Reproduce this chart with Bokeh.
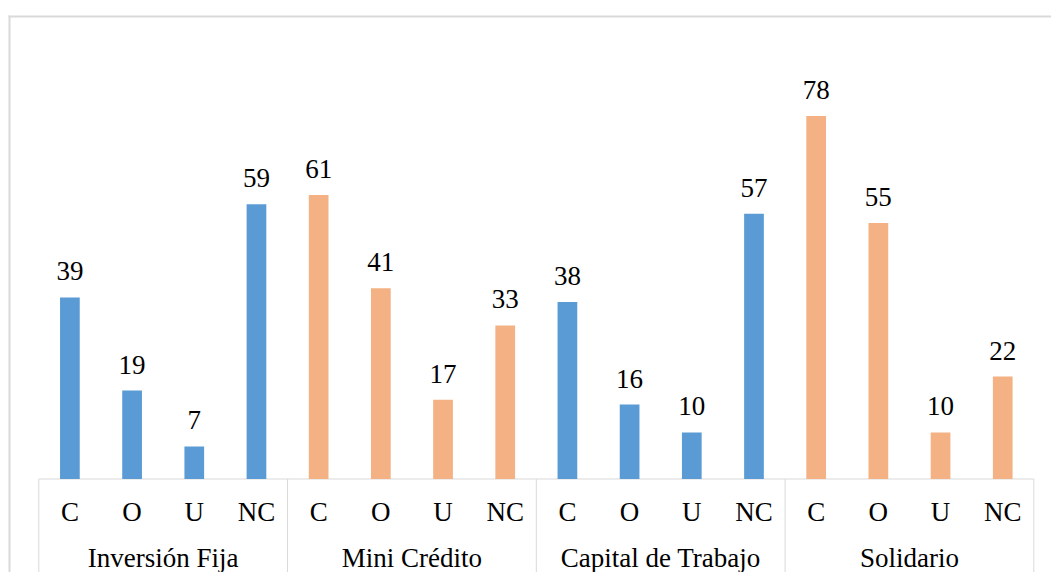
import numpy as np
from bokeh.plotting import figure
from bokeh.models import Range1d, ColumnDataSource
from bokeh.core.properties import value
from bokeh.embed import file_html
from bokeh.resources import INLINE

# ---- data ----
groups = ["Inversión Fija", "Mini Crédito", "Capital de Trabajo", "Solidario"]
subcats = ["C", "O", "U", "NC"]
inversion_fija = [39, 19, 7, 59]
mini_credito = [61, 41, 17, 33]
capital_trabajo = [38, 16, 10, 57]
solidario = [78, 55, 10, 22]
group_colors = ["#5B9BD5", "#F4B183", "#5B9BD5", "#F4B183"]

series = [inversion_fija, mini_credito, capital_trabajo, solidario]

# ---- layout constants (pixels) ----
W, H = 1051, 572
X0, SLOT = 38.3, 62.19     # left edge of category axis, width of one category slot
Y0, PPU = 478.5, 4.655     # baseline pixel, pixels per value unit
FONT = "Liberation Serif"
FS = "27px"
LINE = "#D9D9D9"

n_sub = len(subcats)
xs, tops, cols, subs = [], [], [], []
for gi, (g, vals) in enumerate(zip(groups, series)):
    for si, (s, v) in enumerate(zip(subcats, vals)):
        xs.append(gi * n_sub + si + 0.5)
        tops.append(v)
        cols.append(group_colors[gi])
        subs.append(s)

src = ColumnDataSource(dict(x=xs, top=tops, color=cols, sub=subs,
                            label=[str(v) for v in tops]))

p = figure(width=W, height=H,
           x_range=Range1d(-X0 / SLOT, (W - X0) / SLOT),
           y_range=Range1d(-(H - Y0) / PPU, Y0 / PPU),
           output_backend="svg", toolbar_location=None,
           x_axis_type=None, y_axis_type=None,
           min_border=0, min_border_left=0, min_border_right=0,
           min_border_top=0, min_border_bottom=0)
p.outline_line_color = None
p.background_fill_color = "white"
p.border_fill_color = "white"
p.grid.visible = False

p.extra_x_ranges = {"px": Range1d(0, W)}
p.extra_y_ranges = {"px": Range1d(H, 0)}

# outer chart border (top and left visible)
p.segment(x0=[8, 9], y0=[16, 15], x1=[W + 10, 9], y1=[16, H + 10],
          line_color=LINE, line_width=2,
          x_range_name="px", y_range_name="px")

# category axis line and group separators
n_tot = len(groups) * n_sub
p.segment(x0=[0], y0=[0], x1=[n_tot], y1=[0], line_color=LINE, line_width=1)
bounds = np.arange(len(groups) + 1) * n_sub
p.segment(x0=bounds, y0=np.zeros(len(bounds)), x1=bounds,
          y1=np.full(len(bounds), -40.0), line_color=LINE, line_width=1)

# bars
p.vbar(x="x", top="top", bottom=0, width=0.317, source=src,
       fill_color="color", line_color=None)

# value labels
p.text(x="x", y="top", text="label", source=src, y_offset=-26,
       text_align="center", text_baseline="alphabetic",
       text_font=value(FONT), text_font_size=FS, text_color="#000000")

# sub-category labels
src_sub = ColumnDataSource(dict(x=xs, y=[511] * len(xs), t=subs))
p.text(x="x", y="y", text="t", source=src_sub, y_range_name="px",
       text_align="center", text_baseline="alphabetic",
       text_font=value(FONT), text_font_size=FS, text_color="#000000")

# group labels
gx = [gi * n_sub + n_sub / 2 for gi in range(len(groups))]
src_grp = ColumnDataSource(dict(x=gx, y=[557] * len(gx), t=groups))
p.text(x="x", y="y", text="t", source=src_grp, y_range_name="px",
       text_align="center", text_baseline="alphabetic",
       text_font=value(FONT), text_font_size=FS, text_color="#000000")

open("out.html", "w").write(file_html(p, INLINE))
